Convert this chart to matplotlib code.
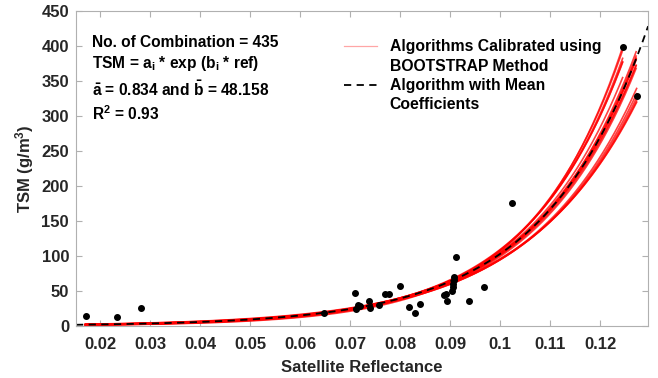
import numpy as np
import matplotlib.pyplot as plt
from matplotlib.lines import Line2D

plt.rcParams['font.family'] = ['Liberation Sans', 'DejaVu Sans']
plt.rcParams['font.weight'] = 'bold'
plt.rcParams['mathtext.fontset'] = 'custom'
plt.rcParams['mathtext.rm'] = 'Liberation Sans:bold'
plt.rcParams['mathtext.it'] = 'Liberation Sans:bold'
plt.rcParams['mathtext.bf'] = 'Liberation Sans:bold'

# measured points (reflectance, TSM)
refl = [0.0171, 0.0233, 0.0282, 0.0647, 0.0710, 0.0715, 0.0712, 0.0719, 0.0737,
        0.0740, 0.0757, 0.0770, 0.0778, 0.0800, 0.0817, 0.0829, 0.0839, 0.0887,
        0.0892, 0.0893, 0.0903, 0.0905, 0.0905, 0.0907, 0.0907, 0.0912, 0.0937,
        0.0968, 0.1023, 0.1245, 0.1273]
tsm = [14, 13, 26, 19, 47, 30, 24, 28, 36,
       26, 30, 45, 46, 57, 27, 19, 31, 44,
       46, 35, 50, 55, 60, 66, 70, 98, 35,
       56, 175, 398, 328]

# bootstrap coefficients (a_i, b_i) and last reflectance of each sample
a_boot = [0.485, 0.55, 0.62, 0.70, 0.75, 0.78, 0.81, 0.88, 0.95, 1.02, 1.10, 1.18,
          0.66, 0.86, 0.92, 0.80, 0.72, 0.84, 0.90]
b_boot = [53.9, 52.8, 51.6, 50.5, 49.2, 48.7, 48.4, 47.7, 46.0, 45.3, 44.6, 44.0,
          51.0, 48.0, 47.2, 48.2, 49.8, 47.9, 46.6]
end_boot = [0.1245, 0.1245, 0.1245, 0.1245, 0.1272, 0.1272, 0.1272, 0.1272, 0.1273,
            0.1273, 0.1273, 0.1273, 0.1245, 0.1272, 0.1272, 0.1272, 0.1245, 0.1272,
            0.1273]

a_mean = 0.834
b_mean = 48.158

fig = plt.figure(figsize=(6.58, 3.78), dpi=100)
ax = fig.add_axes([0.1155, 0.1376, 0.8695, 0.8334])

for a, b, e in zip(a_boot, b_boot, end_boot):
    xr = np.linspace(0.0171, e, 200)
    ax.plot(xr, a * np.exp(b * xr), color='red', lw=1.2, alpha=0.75)

xm = np.linspace(0.0152, 0.1296, 300)
ax.plot(xm, a_mean * np.exp(b_mean * xm), color='black', lw=1.3, dashes=(4, 3))

ax.plot(refl, tsm, 'o', color='black', ms=4)

ax.set_xlim(0.0152, 0.1296)
ax.set_ylim(0, 450)
ax.set_xticks(np.arange(0.02, 0.121, 0.01))
ax.set_xticklabels(['0.02', '0.03', '0.04', '0.05', '0.06', '0.07', '0.08',
                    '0.09', '0.1', '0.11', '0.12'])
ax.set_yticks(range(0, 451, 50))

for s in ax.spines.values():
    s.set_color('#b0b0b0')
ax.tick_params(direction='in', length=4, color='#b0b0b0', top=True, right=True,
               labelsize=12, labelcolor='#262626')
ax.tick_params(axis='x', pad=8)
ax.tick_params(axis='y', pad=5)

ax.set_xlabel('Satellite Reflectance', fontsize=12, fontweight='bold', color='#262626',
              labelpad=6)
ax.set_ylabel('TSM (g/m$^3$)', fontsize=12, fontweight='bold', color='#262626',
              labelpad=4)

txt = ('No. of Combination = 435\n'
       'TSM = a$_\\mathrm{i}$ * exp (b$_\\mathrm{i}$ * ref)\n'
       '$\\bar{\\mathrm{a}}$ = 0.834 and $\\bar{\\mathrm{b}}$ = 48.158\n'
       'R$^\\mathrm{2}$ = 0.93')
ax.text(0.028, 0.925, txt, transform=ax.transAxes, fontsize=11.2, fontweight='bold',
        va='top', ha='left', linespacing=1.35)

# legend: each wrapped line is its own row so spacing stays even
handles = [Line2D([], [], color='red', lw=0.9, alpha=0.35),
           Line2D([], [], color='none'),
           Line2D([], [], color='black', lw=1.3, dashes=(4, 3)),
           Line2D([], [], color='none')]
labels = ['Algorithms Calibrated using', 'BOOTSTRAP Method',
          'Algorithm with Mean', 'Coefficients']
leg = ax.legend(handles, labels, loc='upper left', bbox_to_anchor=(0.444, 0.955),
                frameon=False, fontsize=11.3, handlelength=2.1, handletextpad=0.8,
                labelspacing=0.28)
for t in leg.get_texts():
    t.set_fontweight('bold')

fig.savefig('out.png', dpi=100)
